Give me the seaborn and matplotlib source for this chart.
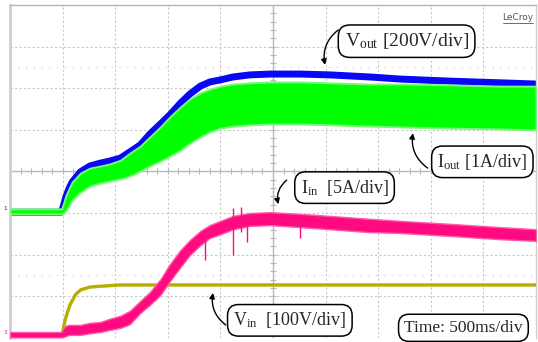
import numpy as np
import pandas as pd
import matplotlib
matplotlib.use("Agg")
import matplotlib.pyplot as plt
import seaborn as sns

# ---------------- data (time in s, amplitude in screen divisions) ----------------
t_main = [0.00, 0.49, 0.51, 0.53, 0.56, 0.59, 0.67, 0.76, 0.86, 0.95, 1.05, 1.14,
          1.24, 1.33, 1.43, 1.52, 1.62, 1.71, 1.81, 1.90, 2.00, 2.12, 2.28, 2.47,
          2.76, 3.04, 3.42, 3.71, 4.18, 4.66, 5.00]

# Vout (blue), 200 V/div
vout = [-0.98, -0.98, -0.81, -0.62, -0.42, -0.26, -0.01, 0.13, 0.20, 0.25, 0.32, 0.47,
        0.64, 0.90, 1.14, 1.36, 1.64, 1.86, 2.05, 2.15, 2.20, 2.27, 2.32, 2.34,
        2.34, 2.32, 2.27, 2.22, 2.17, 2.13, 2.10]

# Iout (green), 1 A/div -- noisy envelope
iout_hi = [-0.90, -0.90, -0.76, -0.59, -0.42, -0.26, -0.04, 0.08, 0.13, 0.18, 0.27, 0.44,
           0.61, 0.83, 1.07, 1.31, 1.55, 1.74, 1.89, 1.98, 2.05, 2.10, 2.13, 2.15,
           2.15, 2.13, 2.10, 2.10, 2.08, 2.05, 2.05]
iout_lo = [-1.02, -1.02, -1.00, -0.95, -0.83, -0.69, -0.50, -0.35, -0.28, -0.23, -0.18, -0.11,
           0.01, 0.13, 0.25, 0.37, 0.51, 0.68, 0.83, 0.95, 1.04, 1.09, 1.12, 1.14,
           1.14, 1.12, 1.09, 1.07, 1.04, 1.02, 1.00]

# Iin (pink), 5 A/div -- noisy envelope
iin_hi = [-3.86, -3.86, -3.76, -3.71, -3.69, -3.69, -3.69, -3.64, -3.62, -3.54, -3.47, -3.35,
          -3.11, -2.90, -2.59, -2.23, -1.89, -1.65, -1.43, -1.29, -1.19, -1.07, -1.00, -0.98,
          -1.02, -1.07, -1.14, -1.19, -1.26, -1.34, -1.39]
iin_lo = [-3.99, -3.99, -3.98, -3.96, -3.93, -3.93, -3.93, -3.89, -3.86, -3.81, -3.76, -3.67,
          -3.40, -3.21, -2.97, -2.64, -2.30, -2.01, -1.77, -1.60, -1.51, -1.39, -1.31, -1.29,
          -1.34, -1.39, -1.46, -1.48, -1.55, -1.63, -1.67]
# isolated spikes on Iin (time, low end, high end)
spike_t = [1.85, 2.12, 2.25, 2.76, 2.20]
spike_lo = [-2.13, -2.01, -1.70, -1.60, -1.45]
spike_hi = [-1.50, -0.88, -1.20, -1.25, -0.85]

# Vin (olive), 100 V/div
t_vin = [0.00, 0.49, 0.50, 0.51, 0.52, 0.53, 0.55, 0.57, 0.60, 0.62, 0.67, 0.76, 0.86, 1.05, 5.00]
vin = [-3.99, -3.99, -3.89, -3.74, -3.62, -3.52, -3.36, -3.21, -3.07, -2.97, -2.85, -2.78,
       -2.76, -2.73, -2.73]

labels = {
    "vout": ("$\\mathregular{V_{out}}$ [200V/div]", 3.77, 3.13),
    "iout": ("$\\mathregular{I_{out}}$ [1A/div]", 4.49, 0.23),
    "iin": ("$\\mathregular{I_{in}}$  [5A/div]", 3.18, -0.39),
    "vin": ("$\\mathregular{V_{in}}$  [100V/div]", 2.66, -3.58),
    "time": ("Time: 500ms/div", 4.31, -3.76),
}

# ---------------- style ----------------
sns.set_style("white")
plt.rcParams["font.family"] = ["Liberation Serif", "DejaVu Serif"]
plt.rcParams["mathtext.fontset"] = "custom"
plt.rcParams["mathtext.rm"] = "Liberation Serif"
plt.rcParams["mathtext.it"] = "Liberation Serif:italic"

BLUE = "#0808f4"
GREEN = "#00ff00"
PINK = "#ff0a80"
OLIVE = "#b5ad00"

fig = plt.figure(figsize=(5.38, 3.42), dpi=100)
ax = fig.add_axes([10 / 538, 4.2 / 342, 526 / 538, 332.8 / 342])
ax.set_xlim(0, 5)
ax.set_ylim(-4, 4)
ax.set_xticks([])
ax.set_yticks([])
ax.spines["bottom"].set_visible(False)
ax.spines["left"].set_color("#cfcfcf")
ax.spines["left"].set_linewidth(2.0)
ax.spines["top"].set_color("#b4b4b4")
ax.spines["top"].set_linewidth(1.0)
ax.spines["right"].set_color("#d0d0d0")
ax.spines["right"].set_linewidth(1.0)

# grid
for xv in np.arange(0.5, 5.0, 0.5):
    if abs(xv - 2.5) > 1e-6:
        ax.axvline(xv, color="#c8c8c8", lw=0.8, dashes=(2, 2), zorder=0)
for yv in range(-3, 4):
    if yv != 0:
        ax.axhline(yv, color="#c8c8c8", lw=0.8, dashes=(2, 2), zorder=0)
for yv in (2.5, -2.5):
    ax.axhline(yv, color="#c8c8c8", lw=0.8, dashes=(1, 6), zorder=0)
ax.axhline(0, color="#b8b8b8", lw=1.0, zorder=0)
ax.axvline(2.5, color="#b8b8b8", lw=1.0, zorder=0)
ax.plot(np.arange(0.1, 5.0, 0.1), np.zeros(49), ls="none", marker="|", ms=4,
        mec="#b8b8b8", mew=0.8, zorder=0)
ax.plot(np.full(39, 2.5), np.arange(-3.8, 3.9, 0.2), ls="none", marker="_", ms=4,
        mec="#b8b8b8", mew=0.8, zorder=0)

# traces
sns.lineplot(x=t_main, y=vout, color=BLUE, lw=5.0, ax=ax, zorder=2)
ax.fill_between(t_main, iout_lo, iout_hi, color=GREEN, lw=1.4, ec="#7af77a", zorder=3)
sns.lineplot(x=t_vin, y=vin, color=OLIVE, lw=2.4, ax=ax, zorder=4)
ax.fill_between(t_main, iin_lo, iin_hi, color=PINK, lw=1.0, ec="#ff5aa8", zorder=5)
ax.vlines(spike_t, spike_lo, spike_hi, color=PINK, lw=1.0, zorder=5)

# channel markers
ax.text(-0.03, -0.9, "1", color=BLUE, fontsize=4, ha="right", va="center",
        family="DejaVu Sans", clip_on=False)
ax.text(-0.03, -3.88, "3", color=PINK, fontsize=4, ha="right", va="center",
        family="DejaVu Sans", clip_on=False)

# labels
bbox = dict(boxstyle="round,pad=0.32,rounding_size=0.6", fc="white", ec="black", lw=1.1)
fs = {"vout": 14, "iout": 13, "iin": 13, "vin": 13, "time": 12.5}
for key, (txt, tx, ty) in labels.items():
    ax.text(tx, ty, txt, fontsize=fs[key], ha="center", va="center", bbox=bbox, zorder=10)

arrow = dict(arrowstyle="-|>", color="black", lw=1.0, mutation_scale=8, shrinkA=0, shrinkB=0)
ax.annotate("", xy=(2.994, 2.56), xytext=(3.12, 3.40),
            arrowprops=dict(connectionstyle="arc3,rad=0.3", **arrow), zorder=9)
ax.annotate("", xy=(3.83, 0.92), xytext=(3.97, 0.08),
            arrowprops=dict(connectionstyle="arc3,rad=-0.3", **arrow), zorder=9)
ax.annotate("", xy=(2.55, -0.79), xytext=(2.63, -0.21),
            arrowprops=dict(connectionstyle="arc3,rad=0.3", **arrow), zorder=9)
ax.annotate("", xy=(1.93, -2.92), xytext=(2.05, -3.69),
            arrowprops=dict(connectionstyle="arc3,rad=-0.3", **arrow), zorder=9)

# LeCroy logo text
ax.text(0.966, 0.975, "LeCroy", transform=ax.transAxes, fontsize=6.5, color="#555555",
        family="DejaVu Sans", ha="center", va="top")
ax.plot([0.938, 0.994], [0.946, 0.946], transform=ax.transAxes, color="#555555", lw=0.6)

fig.savefig("out.png", dpi=100)
